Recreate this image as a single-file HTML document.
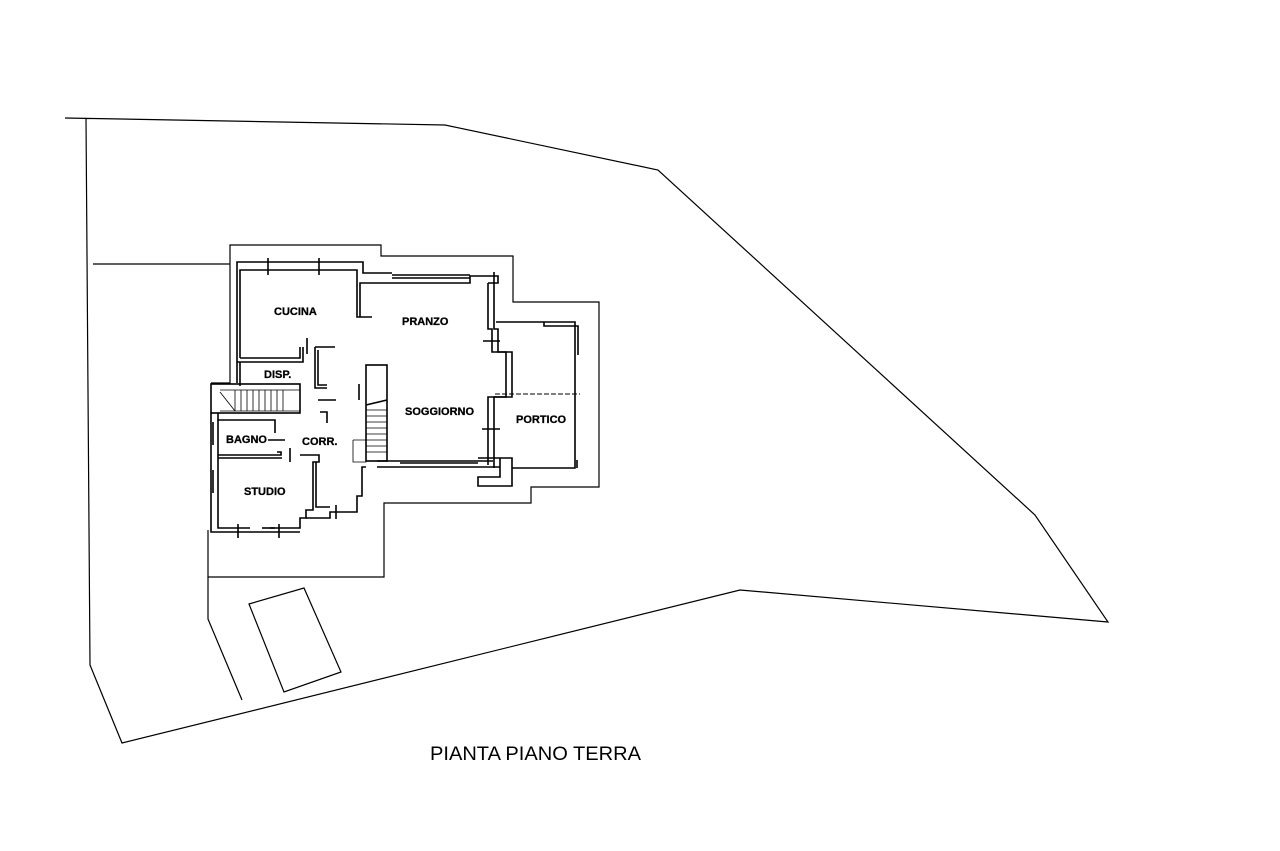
<!DOCTYPE html>
<html><head><meta charset="utf-8"><style>
html,body{margin:0;padding:0;background:#fff;}
svg{display:block}
text{font-family:"Liberation Sans",Arial,sans-serif;fill:#000}
.l{font-weight:bold;font-size:11px;stroke:#000;stroke-width:0.3}
</style></head><body>
<svg width="1280" height="851" viewBox="0 0 1280 851" xmlns="http://www.w3.org/2000/svg">
<g fill="none" stroke="#000" stroke-width="1.2">
<polyline points="65,118 445,125 658,170 1035,515 1108,622 740,590 122,743 90,665 86,118"/>
<line x1="93" y1="264" x2="230" y2="264"/>
<polyline points="211,383 230,383 230,245 381,245 381,256 513,256 513,302 599,302 599,487 531,487 531,503 384,503 384,577 208,577 208,619 242,700"/>
<line x1="208" y1="577" x2="208" y2="530"/>
<polygon points="249,604 304,588 341,672 284,692"/>
</g>
<g fill="none" stroke="#000" stroke-width="1.6">
<polyline points="237,383 237,262 363,262 363,273 392,273"/>
<polyline points="240,358 240,270 357,270 357,317 372,317"/>
<polyline points="240,358 300,358 300,347"/>
<polyline points="237,362 303,362 303,347"/>
<line x1="307" y1="338" x2="307" y2="354"/>
<polyline points="240,362 240,386"/>
<polyline points="315,347 335,347"/><polyline points="315,347 315,388 327,388"/><polyline points="318,350 318,385 327,385"/>
<polyline points="360,317 360,283 470,283 470,276 498,276 498,283 488,283"/>
<line x1="392" y1="275" x2="470" y2="275"/><line x1="392" y1="278" x2="470" y2="278"/>
<polyline points="488,283 488,329 492,329 492,352 506,352 506,397 488,397 488,465"/>
<polyline points="494,272 494,329 498,329 498,352 512,352 512,397 494,397 494,468"/>
<line x1="483" y1="341" x2="500" y2="341"/><line x1="482" y1="429" x2="500" y2="429"/>
<polyline points="377,461 493,461"/><polyline points="377,467 500,467"/>
<line x1="400" y1="463" x2="478" y2="463"/>
<polyline points="496,322 575,322 575,468 512,468"/>
<polyline points="544,322 544,326 578,326 578,355"/>
<line x1="577" y1="460" x2="577" y2="468"/>
<line x1="495" y1="394" x2="580" y2="394" stroke-dasharray="5,2" stroke-width="1"/>
<polyline points="478,458 512,458 512,486 478,486 478,477 500,477 500,458"/>
<rect x="366" y="365" width="21" height="96"/>
<polyline points="366,405 387,400"/>
<g stroke-width="0.8"><line x1="366" y1="410" x2="387" y2="410"/><line x1="366" y1="416" x2="387" y2="416"/><line x1="366" y1="422" x2="387" y2="422"/><line x1="366" y1="428" x2="387" y2="428"/><line x1="366" y1="434" x2="387" y2="434"/><line x1="366" y1="440" x2="387" y2="440"/><line x1="366" y1="446" x2="387" y2="446"/><line x1="366" y1="452" x2="387" y2="452"/>
<polyline points="353,440 366,440 366,462 353,462 353,440"/></g>
<line x1="359" y1="384" x2="359" y2="400"/>
<rect x="211" y="384" width="89" height="29"/>
<g stroke-width="0.8"><line x1="235" y1="390" x2="235" y2="411"/><line x1="241" y1="390" x2="241" y2="411"/><line x1="247" y1="390" x2="247" y2="411"/><line x1="253" y1="390" x2="253" y2="411"/><line x1="259" y1="390" x2="259" y2="411"/><line x1="265" y1="390" x2="265" y2="411"/><line x1="271" y1="390" x2="271" y2="411"/><line x1="277" y1="390" x2="277" y2="411"/><line x1="283" y1="390" x2="283" y2="411"/><line x1="220" y1="390" x2="300" y2="390"/><line x1="220" y1="411" x2="300" y2="411"/><line x1="220" y1="392" x2="235" y2="411"/></g>
<line x1="318" y1="400" x2="336" y2="400"/>
<polyline points="320,412 327,412 327,423"/>
<polyline points="218,413 218,420 275,420 275,433"/>
<polyline points="211,413 211,532 220,532"/>
<line x1="213" y1="422" x2="213" y2="445"/><line x1="213" y1="470" x2="213" y2="493"/>
<polyline points="218,420 218,528 230,528"/>
<line x1="268" y1="440" x2="285" y2="440"/>
<polyline points="218,455 281,455 281,452 277,452"/><polyline points="218,458 282,458"/>
<line x1="290" y1="448" x2="290" y2="462"/>
<polyline points="300,455 319,455 319,462 313,462 313,510 306,510 306,518 300,518 300,528 270,528"/>
<polyline points="316,462 316,507 330,507"/>
<polyline points="306,518 330,518 330,512 357,512 357,496 362,496 362,467 366,467"/>
<line x1="336" y1="505" x2="336" y2="519"/>
<line x1="230" y1="528" x2="250" y2="528"/><line x1="262" y1="528" x2="275" y2="528"/>
<line x1="238" y1="524" x2="238" y2="538"/><line x1="279" y1="524" x2="279" y2="538"/>
<line x1="220" y1="532" x2="300" y2="532"/>
<line x1="268" y1="258" x2="268" y2="275"/><line x1="319" y1="258" x2="319" y2="275"/>
</g>
<text class="l" x="274" y="315">CUCINA</text>
<text class="l" x="402" y="325">PRANZO</text>
<text class="l" x="264" y="378">DISP.</text>
<text class="l" x="405" y="415">SOGGIORNO</text>
<text class="l" x="516" y="423">PORTICO</text>
<text class="l" x="226" y="443">BAGNO</text>
<text class="l" x="302" y="445">CORR.</text>
<text class="l" x="244" y="495">STUDIO</text>
<text x="430" y="760" font-size="19" textLength="211" lengthAdjust="spacingAndGlyphs">PIANTA PIANO TERRA</text>
</svg>
</body></html>
